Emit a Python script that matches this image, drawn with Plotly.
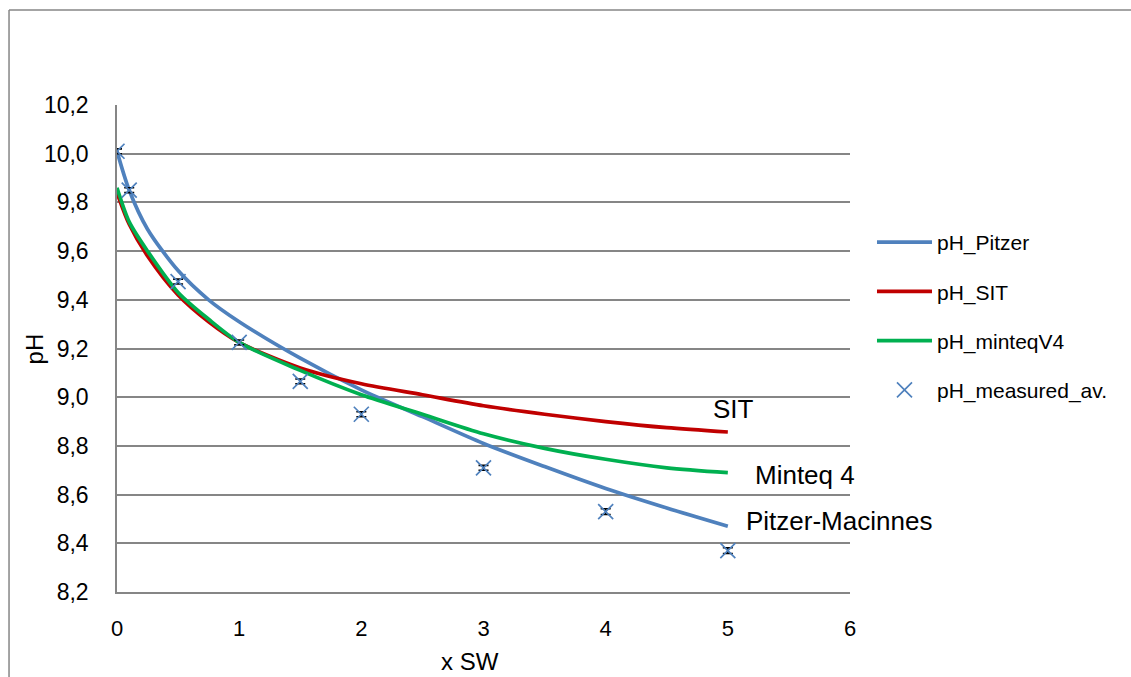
import plotly.graph_objects as go

# Model curves (x SW vs pH)
x_model = [0, 0.1, 0.25, 0.5, 0.75, 1, 1.5, 2, 2.5, 3, 3.5, 4, 4.5, 5]
ph_pitzer = [10.01, 9.85, 9.69, 9.52, 9.40, 9.31, 9.16, 9.03, 8.92, 8.81, 8.715, 8.625, 8.545, 8.47]
ph_sit = [9.84, 9.71, 9.58, 9.42, 9.31, 9.225, 9.12, 9.055, 9.01, 8.965, 8.93, 8.90, 8.875, 8.857]
ph_minteq = [9.86, 9.72, 9.60, 9.43, 9.32, 9.225, 9.11, 9.01, 8.93, 8.85, 8.79, 8.745, 8.71, 8.69]

# Measured averages with small error bars
x_meas = [0, 0.1, 0.5, 1, 1.5, 2, 3, 4, 5]
ph_meas = [10.01, 9.85, 9.475, 9.225, 9.065, 8.93, 8.71, 8.53, 8.37]
ph_meas_err = [0.01, 0.01, 0.01, 0.01, 0.01, 0.01, 0.01, 0.012, 0.012]

x_ticks = [0, 1, 2, 3, 4, 5, 6]
y_ticks = [8.2, 8.4, 8.6, 8.8, 9.0, 9.2, 9.4, 9.6, 9.8, 10.0, 10.2]

# Curve end labels: text, left x, centre y
curve_labels = [("SIT", 4.86, 8.95), ("Minteq 4", 5.205, 8.68), ("Pitzer-Macinnes", 5.13, 8.49)]

FONT = "Liberation Sans, Arial, sans-serif"
GRID = "#868686"

fig = go.Figure()
series = [
    ("pH_Pitzer", ph_pitzer, "#4F81BD"),
    ("pH_SIT", ph_sit, "#C00000"),
    ("pH_minteqV4", ph_minteq, "#00B050"),
]
for name, ys, color in series:
    fig.add_trace(go.Scatter(x=x_model, y=ys, mode="lines", name=name, legendgroup=name,
                             line=dict(color=color, width=3.7, shape="spline", smoothing=0.8)))
fig.add_trace(go.Scatter(x=x_meas, y=ph_meas, mode="markers", name="pH_measured_av.",
                         legendgroup="meas",
                         marker=dict(symbol="x-thin", size=15, color="#4F81BD",
                                     line=dict(color="#4F81BD", width=1.7)),
                         error_y=dict(type="data", array=ph_meas_err, color="black",
                                      thickness=1.6, width=5)))

for text, x, y in curve_labels:
    fig.add_annotation(x=x, y=y, xref="x", yref="y", text=text, showarrow=False,
                       xanchor="left", yanchor="middle",
                       font=dict(family=FONT, size=26, color="black"))

# Axis titles
fig.add_annotation(x=-0.112, y=0.5, xref="paper", yref="paper", text="pH", textangle=-90,
                   xanchor="center", yanchor="middle", showarrow=False,
                   font=dict(family=FONT, size=24, color="black"))
fig.add_annotation(x=0.482, y=-0.1437, xref="paper", yref="paper", text="x SW",
                   xanchor="center", yanchor="middle", showarrow=False,
                   font=dict(family=FONT, size=24, color="black"))

# Chart-area border (left and top edges)
fig.add_shape(type="line", xref="paper", yref="paper", x0=-0.1473, x1=-0.1473, y0=1.195, y1=-0.3,
              line=dict(color=GRID, width=1.5))
fig.add_shape(type="line", xref="paper", yref="paper", x0=-0.1473, x1=1.5, y0=1.195, y1=1.195,
              line=dict(color=GRID, width=1.5))

fig.update_layout(
    width=1131, height=677,
    margin=dict(l=117, r=281, t=105, b=85, autoexpand=False),
    plot_bgcolor="white", paper_bgcolor="white",
    separators=", ",
    font=dict(family=FONT, size=22, color="black"),
    showlegend=True,
    legend=dict(x=1.03, y=0.76, xanchor="left", yanchor="top",
                font=dict(family=FONT, size=21, color="black"),
                tracegroupgap=19, itemwidth=55, bgcolor="rgba(0,0,0,0)"),
)
fig.update_xaxes(range=[0, 6], tickvals=x_ticks, showgrid=False, zeroline=False,
                 showline=True, linecolor=GRID, linewidth=1.5, ticks="",
                 ticklabelstandoff=16, tickfont=dict(family=FONT, size=22))
fig.update_yaxes(range=[8.2, 10.2], tickvals=y_ticks, tickformat=".1f", showgrid=True,
                 gridcolor=GRID, gridwidth=1.5, zeroline=False,
                 showline=True, linecolor=GRID, linewidth=1.5, ticks="",
                 ticklabelstandoff=22, tickfont=dict(family=FONT, size=23))

fig.write_html("out.html")
